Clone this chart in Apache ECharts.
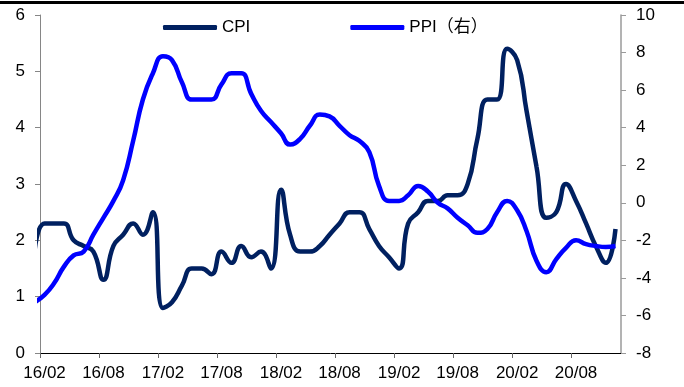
<!DOCTYPE html>
<html>
<head>
<meta charset="utf-8">
<script src="https://cdn.jsdelivr.net/npm/echarts@6/dist/echarts.min.js"></script>
<style>
  html, body { margin: 0; padding: 0; background: #fff; }
  #main { width: 684px; height: 387px; }
</style>
</head>
<body>
<div id="main"></div>
<script>
// 月份：2016-01 ~ 2020-12，数据点放在月中
const startYear = 2016
const monthCount = 60
const months = []
for (let i = 0; i < monthCount; i++) {
  months.push([startYear + Math.floor(i / 12), i % 12])
}

// CPI 同比（左轴）
const cpi = [
  1.8, 2.3, 2.3, 2.3, 2.0, 1.9, 1.8, 1.3, 1.9, 2.1, 2.3, 2.1,
  2.5, 0.8, 0.9, 1.2, 1.5, 1.5, 1.4, 1.8, 1.6, 1.9, 1.7, 1.8,
  1.5, 2.9, 2.1, 1.8, 1.8, 1.9, 2.1, 2.3, 2.5, 2.5, 2.2, 1.9,
  1.7, 1.5, 2.3, 2.5, 2.7, 2.7, 2.8, 2.8, 3.0, 3.8, 4.5, 4.5,
  5.4, 5.2, 4.3, 3.3, 2.4, 2.5, 3.0, 2.7, 2.3, 1.9, 1.6, 2.2
]
// PPI 同比（右轴）
const ppi = [
  -5.3, -4.9, -4.3, -3.4, -2.8, -2.6, -1.7, -0.8, 0.1, 1.2, 3.3, 5.5,
  6.9, 7.8, 7.6, 6.4, 5.5, 5.5, 5.5, 6.3, 6.9, 6.9, 5.8, 4.9,
  4.3, 3.7, 3.1, 3.4, 4.1, 4.7, 4.6, 4.1, 3.6, 3.3, 2.7, 0.9,
  0.1, 0.1, 0.4, 0.9, 0.6, 0.0, -0.3, -0.8, -1.2, -1.6, -1.4, -0.5,
  0.1, -0.4, -1.5, -3.1, -3.7, -3.0, -2.4, -2.0, -2.2, -2.3, -2.35, -2.3
]
// 横轴刻度：每年2月、8月
const tickMonths = [
  [2016, 1], [2016, 7], [2017, 1], [2017, 7], [2018, 1],
  [2018, 7], [2019, 1], [2019, 7], [2020, 1], [2020, 7]
]
const axisStart = [2016, 1]
const axisEnd = [2021, 0]

const ts = (ym, day) => new Date(ym[0], ym[1], day).getTime()
const fmtMonth = v => {
  const d = new Date(v)
  return String(d.getFullYear()).slice(2) + '/' + String(d.getMonth() + 1).padStart(2, '0')
}

const fontFamily = '"Liberation Sans", Arial, "Noto Sans CJK SC", sans-serif'

const chart = echarts.init(document.getElementById('main'), null, { renderer: 'canvas' })
chart.setOption({
  animation: false,
  backgroundColor: '#fff',
  textStyle: { fontFamily: fontFamily },
  graphic: [{
    type: 'rect',
    shape: { x: 0, y: 1, width: 684, height: 3 },
    style: { fill: '#000' }
  }],
  legend: {
    left: 158,
    top: 14,
    icon: 'roundRect',
    itemWidth: 54,
    itemHeight: 5,
    itemGap: 100,
    textStyle: { fontSize: 17, color: '#000', fontFamily: fontFamily },
    data: ['CPI', 'PPI（右）']
  },
  grid: { left: 40, right: 63, top: 15, bottom: 34, containLabel: false },
  xAxis: {
    type: 'value',
    min: ts(axisStart, 1),
    max: ts(axisEnd, 1),
    splitLine: { show: false },
    axisLine: { show: true, onZero: false, lineStyle: { color: '#000', width: 1 } },
    axisTick: {
      show: true,
      length: 5,
      lineStyle: { color: '#666' },
      customValues: tickMonths.map(m => ts(m, 1))
    },
    axisLabel: {
      fontSize: 17,
      color: '#000',
      margin: 12,
      customValues: tickMonths.map(m => ts(m, 15)),
      formatter: fmtMonth
    }
  },
  yAxis: [{
    type: 'value',
    min: 0,
    max: 6,
    interval: 1,
    splitLine: { show: false },
    axisLine: { show: true, lineStyle: { color: '#868686' } },
    axisTick: { show: true, length: 5, lineStyle: { color: '#868686' } },
    axisLabel: { fontSize: 17, color: '#000', margin: 15 }
  }, {
    type: 'value',
    position: 'right',
    min: -8,
    max: 10,
    interval: 2,
    splitLine: { show: false },
    axisLine: { show: true, lineStyle: { color: '#9a9a9a', width: 1.5 } },
    axisTick: { show: true, length: 5, lineStyle: { color: '#9a9a9a' } },
    axisLabel: { fontSize: 17, color: '#000', margin: 15 }
  }],
  series: [{
    name: 'CPI',
    type: 'line',
    yAxisIndex: 0,
    smooth: true,
    symbol: 'none',
    lineStyle: { width: 4.5, color: '#002060' },
    itemStyle: { color: '#002060' },
    data: months.map((m, i) => [ts(m, 15), cpi[i]])
  }, {
    name: 'PPI（右）',
    type: 'line',
    yAxisIndex: 1,
    smooth: true,
    symbol: 'none',
    lineStyle: { width: 4.5, color: '#0000ff' },
    itemStyle: { color: '#0000ff' },
    data: months.map((m, i) => [ts(m, 15), ppi[i]])
  }]
})
</script>
</body>
</html>
